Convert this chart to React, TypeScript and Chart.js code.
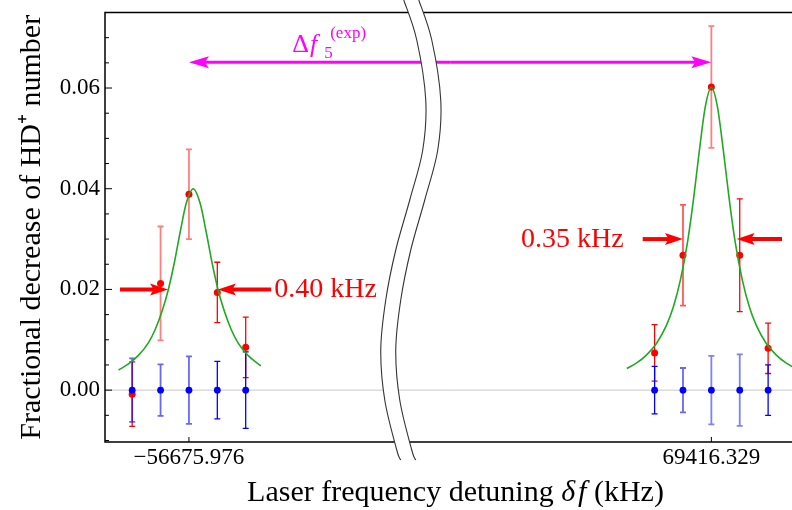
import React, { useEffect, useRef } from 'react';
import { Chart, registerables } from 'chart.js';

Chart.register(...registerables);

// ---------------- data ----------------
// x values are detuning offsets (kHz) from each line centre; the axis is broken between the two lines
const CENTER_LABELS = ['\u221256675.976', '69416.329'];
const POINT_OFFSETS = [-0.4, -0.2, 0, 0.2, 0.4];

const LEFT_RED = [-0.0008, 0.0212, 0.0389, 0.0194, 0.0085];
const LEFT_RED_ERR = [0.0064, 0.0113, 0.0089, 0.006, 0.006];
const LEFT_BLUE = [0, 0, 0, 0, 0];
const LEFT_BLUE_ERR = [0.0063, 0.0051, 0.0067, 0.0057, 0.0076];

const RIGHT_RED = [0.0074, 0.0268, 0.0602, 0.0268, 0.0083];
const RIGHT_RED_ERR = [0.0056, 0.01, 0.0121, 0.0112, 0.005];
const RIGHT_BLUE = [0, 0, 0, 0, 0];
const RIGHT_BLUE_ERR = [0.0047, 0.0044, 0.0068, 0.0071, 0.005];

// fitted line profiles
const LEFT_FIT_X = [-0.496, -0.426, -0.356, -0.286, -0.237, -0.188, -0.145, -0.103, -0.061, -0.019, 0.03, 0.079, 0.121, 0.163, 0.205, 0.248, 0.297, 0.346, 0.416, 0.507];
const LEFT_FIT_Y = [0.004, 0.0052, 0.0069, 0.0094, 0.0121, 0.0158, 0.02, 0.0253, 0.0315, 0.0371, 0.04, 0.0371, 0.0315, 0.0253, 0.02, 0.0158, 0.0121, 0.0094, 0.0069, 0.0048];
const RIGHT_FIT_X = [-0.596, -0.526, -0.456, -0.386, -0.316, -0.267, -0.218, -0.168, -0.126, -0.084, -0.042, 0, 0.042, 0.084, 0.126, 0.168, 0.218, 0.267, 0.316, 0.386, 0.456, 0.526, 0.596, 0.667];
const RIGHT_FIT_Y = [0.0043, 0.0054, 0.007, 0.0093, 0.0129, 0.0166, 0.0219, 0.0294, 0.0379, 0.0477, 0.0564, 0.0601, 0.0564, 0.0477, 0.0379, 0.0294, 0.0219, 0.0166, 0.0129, 0.0093, 0.007, 0.0054, 0.0043, 0.0035];

const Y_TICK_VALUES = [0, 0.02, 0.04, 0.06];
const Y_TICK_LABELS = ['0.00', '0.02', '0.04', '0.06'];

const WIDTH_LABELS = ['0.40 kHz', '0.35 kHz'];
const HALF_MAX = [0.02, 0.03];
const DELTA_LABEL_SUB = '5';
const DELTA_LABEL_SUP = '(exp)';
const Y_TITLE = 'Fractional decrease of HD\u207A number';
const X_TITLE_PARTS = ['Laser frequency detuning ', '\u03B4', 'f', ' (kHz)'];

// ---------------- layout / style ----------------
const GAP = 3.682; // display distance between the two line centres on the broken axis
const X_MIN = -0.5916;
const X_MAX = 4.349;
const Y_MIN = -0.0103;
const Y_MAX = 0.075;
const BREAK_AT = 1.514;
const FONT = "'Liberation Serif', 'Times New Roman', serif";

const RED_ALPHA = [[1, 0.5, 0.5, 1, 1], [1, 0.65, 0.5, 1, 1]];
const BLUE_ALPHA = [[0.6, 0.6, 0.6, 1, 1], [1, 0.6, 0.5, 0.5, 1]];

const ERROR_SERIES = [
  { cluster: 0, values: LEFT_RED, err: LEFT_RED_ERR, rgb: '255,0,0', alpha: RED_ALPHA[0] },
  { cluster: 1, values: RIGHT_RED, err: RIGHT_RED_ERR, rgb: '255,0,0', alpha: RED_ALPHA[1] },
  { cluster: 0, values: LEFT_BLUE, err: LEFT_BLUE_ERR, rgb: '0,0,255', alpha: BLUE_ALPHA[0] },
  { cluster: 1, values: RIGHT_BLUE, err: RIGHT_BLUE_ERR, rgb: '0,0,255', alpha: BLUE_ALPHA[1] },
];

// annotation anchors (data offsets per cluster)
const ARROWS = [
  { cluster: 0, y: HALF_MAX[0], tailL: -0.486, tipL: -0.147, tipR: 0.204, tailR: 0.58 },
  { cluster: 1, y: HALF_MAX[1], tailL: -0.484, tipL: -0.2, tipR: 0.178, tailR: 0.498 },
];
const WIDTH_LABEL_POS = [
  { cluster: 0, x: 0.601, y: 0.0184 },
  { cluster: 1, x: -1.342, y: 0.0284 },
];
const DELTA_ARROW_Y = 0.0651;
const DELTA_LABEL_POS = { x: 0.728, y: 0.0671 };

const BREAK_PTS = [[0, 0], [13, 40], [22, 100], [19, 150], [6, 200], [-8, 250], [-18, 300], [-23, 350], [-19, 400], [-7, 450], [-3, 460]];
const BREAK_W = 15;

const dx = (cluster: number, off: number) => off + cluster * GAP;

function drawArrow(ctx: CanvasRenderingContext2D, x1: number, y1: number, x2: number, y2: number, color: string, lw: number, hl: number, hw: number) {
  const ddx = x2 - x1, ddy = y2 - y1;
  const len = Math.hypot(ddx, ddy);
  const ux = ddx / len, uy = ddy / len, nx = -uy, ny = ux;
  const bx = x2 - ux * hl, by = y2 - uy * hl;
  ctx.strokeStyle = color;
  ctx.fillStyle = color;
  ctx.lineWidth = lw;
  ctx.lineCap = 'butt';
  ctx.beginPath();
  ctx.moveTo(x1, y1);
  ctx.lineTo(x2 - ux * hl * 0.7, y2 - uy * hl * 0.7);
  ctx.stroke();
  ctx.beginPath();
  ctx.moveTo(x2, y2);
  ctx.lineTo(bx + nx * hw, by + ny * hw);
  ctx.lineTo(x2 - ux * hl * 0.8, y2 - uy * hl * 0.8);
  ctx.lineTo(bx - nx * hw, by - ny * hw);
  ctx.closePath();
  ctx.fill();
}

function tracePath(ctx: CanvasRenderingContext2D, pts: number[][], move: boolean) {
  if (move) ctx.moveTo(pts[0][0], pts[0][1]);
  else ctx.lineTo(pts[0][0], pts[0][1]);
  for (let i = 0; i < pts.length - 1; i++) {
    const p0 = pts[Math.max(i - 1, 0)], p1 = pts[i], p2 = pts[i + 1], p3 = pts[Math.min(i + 2, pts.length - 1)];
    ctx.bezierCurveTo(
      p1[0] + (p2[0] - p0[0]) / 6, p1[1] + (p2[1] - p0[1]) / 6,
      p2[0] - (p3[0] - p1[0]) / 6, p2[1] - (p3[1] - p1[1]) / 6,
      p2[0], p2[1]
    );
  }
}

const decorations = {
  id: 'decorations',
  beforeDatasetsDraw(chart: any) {
    const { ctx, chartArea: a, scales } = chart;
    const x = scales.x, y = scales.y;
    ctx.save();
    ctx.beginPath();
    ctx.rect(a.left, a.top, a.right - a.left, a.bottom - a.top);
    ctx.clip();
    const y0 = y.getPixelForValue(0);
    ctx.strokeStyle = '#c8c8c8';
    ctx.lineWidth = 1;
    ctx.beginPath();
    ctx.moveTo(a.left, y0);
    ctx.lineTo(a.right, y0);
    ctx.stroke();
    for (const s of ERROR_SERIES) {
      s.values.forEach((v, i) => {
        const px = x.getPixelForValue(dx(s.cluster, POINT_OFFSETS[i]));
        const top = y.getPixelForValue(v + s.err[i]);
        const bot = y.getPixelForValue(v - s.err[i]);
        ctx.strokeStyle = `rgba(${s.rgb},${s.alpha[i]})`;
        ctx.lineWidth = s.alpha[i] < 1 ? 1.8 : 1.3;
        ctx.beginPath();
        ctx.moveTo(px, top);
        ctx.lineTo(px, bot);
        ctx.moveTo(px - 3, top);
        ctx.lineTo(px + 3, top);
        ctx.moveTo(px - 3, bot);
        ctx.lineTo(px + 3, bot);
        ctx.stroke();
      });
    }
    ctx.restore();
  },
  afterDatasetsDraw(chart: any) {
    const { ctx, chartArea: a, scales } = chart;
    const x = scales.x, y = scales.y;
    ctx.save();
    // frame
    ctx.strokeStyle = '#000';
    ctx.lineWidth = 1.5;
    ctx.beginPath();
    ctx.moveTo(a.right + 2, a.top);
    ctx.lineTo(a.left, a.top);
    ctx.lineTo(a.left, a.bottom);
    ctx.lineTo(a.right + 2, a.bottom);
    ctx.stroke();
    // inward ticks
    ctx.lineWidth = 1;
    ctx.beginPath();
    for (const t of y.ticks) {
      const py = y.getPixelForValue(t.value);
      if (py < a.top + 1 || py > a.bottom - 1) continue;
      const len = t.label ? 7 : 4;
      ctx.moveTo(a.left, py);
      ctx.lineTo(a.left + len, py);
    }
    for (let c = 0; c < 2; c++) {
      const px = x.getPixelForValue(dx(c, 0));
      ctx.moveTo(px, a.bottom);
      ctx.lineTo(px, a.bottom - 5);
    }
    ctx.stroke();

    // width arrows
    for (const ar of ARROWS) {
      const py = y.getPixelForValue(ar.y);
      drawArrow(ctx, x.getPixelForValue(dx(ar.cluster, ar.tailL)), py, x.getPixelForValue(dx(ar.cluster, ar.tipL)), py, '#ff0000', 4, 18, 6);
      drawArrow(ctx, x.getPixelForValue(dx(ar.cluster, ar.tailR)), py, x.getPixelForValue(dx(ar.cluster, ar.tipR)), py, '#ff0000', 4, 18, 6);
    }
    ctx.fillStyle = '#ff0000';
    ctx.font = `28px ${FONT}`;
    ctx.textAlign = 'left';
    ctx.textBaseline = 'alphabetic';
    WIDTH_LABEL_POS.forEach((p, i) => {
      ctx.fillText(WIDTH_LABELS[i], x.getPixelForValue(dx(p.cluster, p.x)), y.getPixelForValue(p.y));
    });

    // splitting arrow
    const ly = y.getPixelForValue(DELTA_ARROW_Y);
    const lx1 = x.getPixelForValue(dx(0, 0));
    const lx2 = x.getPixelForValue(dx(1, 0));
    const mid = (lx1 + lx2) / 2;
    drawArrow(ctx, mid, ly, lx1, ly, '#ff00ff', 3, 20, 6);
    drawArrow(ctx, mid, ly, lx2, ly, '#ff00ff', 3, 20, 6);
    let cx = x.getPixelForValue(DELTA_LABEL_POS.x);
    const by = y.getPixelForValue(DELTA_LABEL_POS.y);
    ctx.fillStyle = '#ff00ff';
    ctx.font = `26px ${FONT}`;
    ctx.fillText('\u0394', cx, by);
    cx += ctx.measureText('\u0394').width + 1;
    ctx.font = `italic 26px ${FONT}`;
    ctx.fillText('f', cx, by);
    const fw = ctx.measureText('f').width;
    ctx.font = `17px ${FONT}`;
    ctx.fillText(DELTA_LABEL_SUB, cx + fw + 7, by + 6);
    ctx.fillText(DELTA_LABEL_SUP, cx + fw + 13, by - 14);
    ctx.restore();
  },
  afterDraw(chart: any) {
    const { ctx, chartArea: a, scales } = chart;
    const x = scales.x;
    ctx.save();
    // x-axis title with italic symbol
    const fonts = [`30px ${FONT}`, `italic 30px ${FONT}`, `italic 30px ${FONT}`, `30px ${FONT}`];
    const gaps = [0, 3, 0, 0];
    let total = 0;
    const widths = X_TITLE_PARTS.map((t, i) => {
      ctx.font = fonts[i];
      const w = ctx.measureText(t).width;
      total += w + gaps[i];
      return w;
    });
    let tx = (a.left + a.right) / 2 - total / 2;
    ctx.fillStyle = '#000';
    ctx.textAlign = 'left';
    ctx.textBaseline = 'alphabetic';
    X_TITLE_PARTS.forEach((t, i) => {
      ctx.font = fonts[i];
      ctx.fillText(t, tx, 501);
      tx += widths[i] + gaps[i];
    });

    // axis break
    const bx = x.getPixelForValue(BREAK_AT);
    const left = BREAK_PTS.map((p) => [bx + p[0], p[1]]);
    const right = BREAK_PTS.map((p) => [bx + p[0] + BREAK_W, p[1]]);
    ctx.fillStyle = '#fff';
    ctx.beginPath();
    tracePath(ctx, left, true);
    tracePath(ctx, right.slice().reverse(), false);
    ctx.closePath();
    ctx.fill();
    ctx.strokeStyle = '#333';
    ctx.lineWidth = 1.1;
    ctx.beginPath();
    tracePath(ctx, left, true);
    ctx.stroke();
    ctx.beginPath();
    tracePath(ctx, right, true);
    ctx.stroke();
    ctx.restore();
  },
};

export default function App() {
  const ref = useRef<HTMLCanvasElement>(null);
  useEffect(() => {
    const pts = (vals: number[], cluster: number) => vals.map((v, i) => ({ x: dx(cluster, POINT_OFFSETS[i]), y: v }));
    const curve = (xs: number[], ys: number[], cluster: number) => xs.map((v, i) => ({ x: dx(cluster, v), y: ys[i] }));
    const chart = new Chart(ref.current as HTMLCanvasElement, {
      type: 'scatter',
      data: {
        datasets: [
          {
            label: 'reference',
            data: [...pts(LEFT_BLUE, 0), ...pts(RIGHT_BLUE, 1)],
            backgroundColor: '#0000ff',
            borderWidth: 0,
            pointRadius: 3.4,
          },
          {
            label: 'fit left',
            data: curve(LEFT_FIT_X, LEFT_FIT_Y, 0),
            showLine: true,
            borderColor: '#22a822',
            borderWidth: 1.6,
            pointRadius: 0,
            cubicInterpolationMode: 'monotone',
          } as any,
          {
            label: 'fit right',
            data: curve(RIGHT_FIT_X, RIGHT_FIT_Y, 1),
            showLine: true,
            borderColor: '#22a822',
            borderWidth: 1.6,
            pointRadius: 0,
            cubicInterpolationMode: 'monotone',
          } as any,
          {
            label: 'signal',
            data: [...pts(LEFT_RED, 0), ...pts(RIGHT_RED, 1)],
            backgroundColor: '#ff0000',
            borderWidth: 0,
            pointRadius: 3.5,
          },
        ],
      },
      options: {
        responsive: false,
        animation: false,
        layout: { padding: { top: 12.5, right: 1, bottom: 0, left: 0 } },
        plugins: { legend: { display: false }, tooltip: { enabled: false } },
        scales: {
          x: {
            type: 'linear',
            min: X_MIN,
            max: X_MAX,
            grid: { display: false, drawTicks: false },
            border: { display: false },
            afterBuildTicks: (s: any) => {
              s.ticks = [{ value: dx(0, 0) }, { value: dx(1, 0) }];
            },
            afterFit: (s: any) => {
              s.height = 68;
              s.paddingLeft = 0;
              s.paddingRight = 0;
            },
            ticks: {
              autoSkip: false,
              maxRotation: 0,
              padding: 2,
              color: '#000',
              font: { family: FONT, size: 23 },
              callback: (_v: any, i: number) => CENTER_LABELS[i],
            },
          },
          y: {
            type: 'linear',
            min: Y_MIN,
            max: Y_MAX,
            grid: { display: false, drawTicks: false },
            border: { display: false },
            afterFit: (s: any) => {
              s.width = 105;
              s.paddingTop = 0;
              s.paddingBottom = 0;
            },
            title: {
              display: true,
              text: Y_TITLE,
              color: '#000',
              font: { family: FONT, size: 30 },
              padding: { top: 13.7, bottom: 0 },
            },
            ticks: {
              stepSize: 0.005,
              includeBounds: false,
              autoSkip: false,
              padding: 5,
              color: '#000',
              font: { family: FONT, size: 23 },
              callback: (v: any) => {
                const k = Y_TICK_VALUES.findIndex((t) => Math.abs(t - Number(v)) < 1e-7);
                return k >= 0 ? Y_TICK_LABELS[k] : '';
              },
            },
          },
        },
      },
      plugins: [decorations],
    });
    return () => chart.destroy();
  }, []);
  return (
    <div style={{ position: 'fixed', left: 0, top: 0, width: 792, height: 510, overflow: 'hidden', background: '#fff' }}>
      <canvas ref={ref} width={810} height={510} style={{ display: 'block' }} />
    </div>
  );
}
